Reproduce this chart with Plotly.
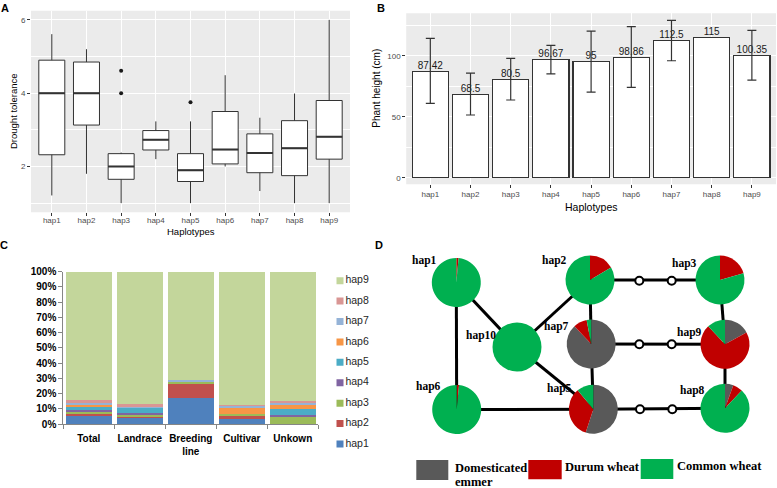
import plotly.graph_objects as go

W, H = 777, 488
SANS = "Liberation Sans, Arial, sans-serif"
SERIF = "Liberation Serif, Times New Roman, serif"

# ---------------- data ----------------
haps = ['hap1', 'hap2', 'hap3', 'hap4', 'hap5', 'hap6', 'hap7', 'hap8', 'hap9']

# A: drought tolerance (box stats)
drought_low = [1.21, 1.80, 1.00, 2.20, 1.00, 2.00, 1.33, 1.00, 1.00]
drought_q1 = [2.32, 3.13, 1.65, 2.45, 1.59, 2.07, 1.83, 1.75, 2.20]
drought_med = [4.00, 4.00, 2.00, 2.73, 1.90, 2.46, 2.37, 2.50, 2.81]
drought_q3 = [4.90, 4.85, 2.35, 2.98, 2.35, 3.50, 2.89, 3.25, 3.80]
drought_high = [5.61, 5.20, 2.38, 3.23, 3.23, 4.49, 3.33, 3.99, 6.00]
outlier_hap = ['hap3', 'hap3', 'hap5']
outlier_val = [4.61, 4.00, 3.75]

# B: plant height
height_mean = [87.42, 68.5, 80.5, 96.67, 95, 98.86, 112.5, 115, 100.35]
height_text = ['87.42', '68.5', '80.5', '96.67', '95', '98.86', '112.5', '115', '100.35']
height_hi = [114.2, 85.8, 97.8, 108.5, 120.2, 123.8, 129.0, None, 120.8]
height_lo = [60.9, 51.4, 63.7, 85.2, 70.2, 74.0, 95.9, None, 80.0]

# C: haplotype share per germplasm group (%)
groups = ['Total', 'Landrace', 'Breeding line', 'Cultivar', 'Unkown']
group_ticks = ['Total', 'Landrace', 'Breeding<br>line', 'Cultivar', 'Unkown']
share_hap1 = [5.3, 4.2, 17.4, 3.1, 0.3]
share_hap2 = [1.5, 0.9, 8.8, 2.0, 0.0]
share_hap3 = [1.5, 1.1, 1.4, 1.5, 4.3]
share_hap4 = [1.1, 0.8, 0.0, 0.0, 1.5]
share_hap5 = [2.6, 3.7, 0.0, 0.0, 3.9]
share_hap6 = [1.3, 0.0, 0.0, 3.7, 2.8]
share_hap7 = [1.0, 1.0, 1.4, 2.0, 1.7]
share_hap8 = [1.3, 1.2, 0.0, 0.3, 0.8]
share_hap9 = [84.4, 87.1, 71.0, 87.4, 84.7]

# D: haplotype network (positions in panel pixels) and pie composition (%)
node_names = ['hap1', 'hap2', 'hap3', 'hap10', 'hap7', 'hap9', 'hap6', 'hap5', 'hap8']
node_x = [456.3, 590.0, 720.0, 517.0, 591.2, 725.0, 456.7, 593.3, 725.0]
node_y = [282.5, 280.0, 280.0, 347.0, 344.0, 344.2, 409.5, 409.2, 408.3]
emmer = [0, 0, 0, 0, 88, 17, 0, 55, 5.5]
durum = [1.5, 16.5, 20.5, 0, 9, 71, 1.5, 34, 6.5]
common = [98.5, 83.5, 79.5, 100, 3, 12, 98.5, 11, 88]
edges = [('hap1', 'hap10'), ('hap10', 'hap2'), ('hap10', 'hap5'), ('hap1', 'hap6'),
         ('hap6', 'hap5'), ('hap2', 'hap7'), ('hap7', 'hap5'), ('hap2', 'hap3'),
         ('hap7', 'hap9'), ('hap5', 'hap8'), ('hap3', 'hap9'), ('hap9', 'hap8')]
mv_x = [639.3, 671.7, 639.3, 671.7, 640.0, 672.3]
mv_y = [280.7, 280.7, 344.3, 344.3, 409.3, 409.3]
label_x = [424, 554.5, 684.7, 480.7, 556, 689.7, 428, 559.7, 692]
label_y = [260, 260.7, 263.3, 335, 326, 332.7, 386, 388.3, 390.7]

# ---------------- styles ----------------
hap_colors = ['#4F81BD', '#C0504D', '#9BBB59', '#8064A2', '#4BACC6',
              '#F79646', '#95B3D7', '#D99694', '#C3D69B']
pie_colors = ['#595959', '#C00000', '#00B050']
pie_labels = ['Domesticated emmer', 'Durum wheat', 'Common wheat']
PIE_R = 24.5


def px(x):
    return x / W


def py(y):
    return 1 - y / H


fig = go.Figure()

# ========== A: box plot ==========
fig.add_trace(go.Box(
    x=haps, q1=drought_q1, median=drought_med, q3=drought_q3,
    lowerfence=drought_low, upperfence=drought_high,
    width=0.75, whiskerwidth=0, boxpoints=False,
    fillcolor='white', line=dict(color='#333333', width=1),
    xaxis='x', yaxis='y', showlegend=False
))
fig.add_trace(go.Scatter(
    x=outlier_hap, y=outlier_val, mode='markers',
    marker=dict(color='#1a1a1a', size=4),
    xaxis='x', yaxis='y', showlegend=False
))

# ========== B: bars with error bars ==========
fig.add_trace(go.Bar(
    x=haps, y=height_mean, width=0.9,
    marker=dict(color='white', line=dict(color='#333333', width=1.1)),
    xaxis='x2', yaxis='y2', showlegend=False
))
fig.add_trace(go.Scatter(
    x=haps, y=height_mean, mode='text', text=height_text,
    textposition='top center',
    textfont=dict(family=SANS, size=10, color='#1a1a1a'),
    xaxis='x2', yaxis='y2', showlegend=False
))
err_idx = [i for i, v in enumerate(height_hi) if v is not None]
fig.add_trace(go.Scatter(
    x=[haps[i] for i in err_idx],
    y=[height_mean[i] for i in err_idx],
    mode='markers', marker=dict(size=1, color='rgba(0,0,0,0)'),
    error_y=dict(type='data', symmetric=False,
                 array=[height_hi[i] - height_mean[i] for i in err_idx],
                 arrayminus=[height_mean[i] - height_lo[i] for i in err_idx],
                 color='#333333', thickness=1.2, width=4.5),
    xaxis='x2', yaxis='y2', showlegend=False
))

# ========== C: stacked percentage bars ==========
shares = [share_hap1, share_hap2, share_hap3, share_hap4, share_hap5,
          share_hap6, share_hap7, share_hap8, share_hap9]
for name, vals, col in zip(haps, shares, hap_colors):
    fig.add_trace(go.Bar(
        x=groups, y=vals, name=name,
        marker=dict(color=col, line=dict(width=0)),
        xaxis='x3', yaxis='y3', showlegend=False
    ))

# custom legend for C (hap9 on top)
fig.add_trace(go.Scatter(
    x=[0] * len(haps), y=list(range(len(haps))),
    mode='markers+text', text=haps, textposition='middle right',
    marker=dict(symbol='square', size=7, color=hap_colors),
    textfont=dict(family=SANS, size=10.5, color='#262626'),
    xaxis='x4', yaxis='y4', showlegend=False, hoverinfo='skip'
))

# ========== D: haplotype network ==========
pos = {n: (x, y) for n, x, y in zip(node_names, node_x, node_y)}
edge_x, edge_y = [], []
for a, b in edges:
    edge_x += [pos[a][0], pos[b][0], None]
    edge_y += [pos[a][1], pos[b][1], None]
fig.add_trace(go.Scatter(
    x=edge_x, y=edge_y, mode='lines', line=dict(color='black', width=3),
    xaxis='x5', yaxis='y5', showlegend=False, hoverinfo='skip'
))
fig.add_trace(go.Scatter(
    x=mv_x, y=mv_y, mode='markers',
    marker=dict(size=8, color='white', line=dict(color='black', width=2)),
    xaxis='x5', yaxis='y5', showlegend=False, hoverinfo='skip'
))
for i, name in enumerate(node_names):
    cx, cy = node_x[i], node_y[i]
    fig.add_trace(go.Pie(
        values=[emmer[i], durum[i], common[i]], labels=pie_labels,
        marker=dict(colors=pie_colors, line=dict(width=0)),
        sort=False, direction='clockwise', rotation=0,
        textinfo='none', showlegend=False, name=name,
        domain=dict(x=[px(cx - PIE_R), px(cx + PIE_R)],
                    y=[py(cy + PIE_R), py(cy - PIE_R)])
    ))

annotations = []
for name, lx, ly in zip(node_names, label_x, label_y):
    annotations.append(dict(
        x=lx, y=ly, xref='x5', yref='y5', text='<b>%s</b>' % name,
        xanchor='center', yanchor='middle', showarrow=False,
        font=dict(family=SERIF, size=11.5, color='black')
    ))

# D legend
swatches = [(416.3, 448.3, 460, 480), (528.3, 561.7, 460, 479.3), (640.7, 673.3, 459, 479)]
shapes = []
for (x0, x1, y0, y1), col in zip(swatches, pie_colors):
    shapes.append(dict(type='rect', xref='x5', yref='y5', x0=x0, x1=x1, y0=y0, y1=y1,
                       fillcolor=col, line=dict(width=0)))
for txt, lx, ly in [('Domesticated', 452.7, 467.7), ('emmer', 452.7, 481.5),
                    ('Durum wheat', 563.3, 466.7), ('Common wheat', 675, 466)]:
    annotations.append(dict(
        x=lx, y=ly, xref='x5', yref='y5', text='<b>%s</b>' % txt,
        xanchor='left', yanchor='middle', showarrow=False,
        font=dict(family=SERIF, size=12.5, color='black')
    ))

# gray ggplot panels for A and B
for xr, yr in [('x domain', 'y domain'), ('x2 domain', 'y2 domain')]:
    shapes.append(dict(type='rect', xref=xr, yref=yr, x0=0, x1=1, y0=0, y1=1,
                       fillcolor='#EBEBEB', line=dict(width=0), layer='below'))

# medians drawn thicker like ggplot
for i, m in enumerate(drought_med):
    shapes.append(dict(type='line', xref='x', yref='y', x0=i - 0.375, x1=i + 0.375,
                       y0=m, y1=m, line=dict(color='#333333', width=2)))

# axis titles and panel letters
titles = [
    ('Haplotypes', 190.5, 231, 0, 9.5, 'normal'),
    ('Drought tolerance', 13, 111, -90, 9.5, 'normal'),
    ('Haplotypes', 591, 207, 0, 10.5, 'normal'),
    ('Phant height (cm)', 376.7, 88, -90, 10, 'normal'),
    ('A', 5, 7.5, 0, 11, 'bold'),
    ('B', 380.5, 8, 0, 11, 'bold'),
    ('C', 3.5, 245, 0, 11, 'bold'),
    ('D', 379, 245.5, 0, 11, 'bold'),
]
for txt, lx, ly, ang, size, weight in titles:
    annotations.append(dict(
        x=px(lx), y=py(ly), xref='paper', yref='paper', text=txt, textangle=ang,
        xanchor='center', yanchor='middle', showarrow=False,
        font=dict(family=SANS, size=size, color='black', weight=weight)
    ))

gg_tick = dict(ticks='outside', ticklen=3, tickcolor='#333333', tickwidth=1,
               tickfont=dict(family=SANS, size=8, color='#4D4D4D'),
               showline=False, zeroline=False, automargin=False)

fig.update_layout(
    template='none',
    width=W, height=H,
    margin=dict(l=0, r=0, t=0, b=0, pad=0, autoexpand=False),
    paper_bgcolor='white', plot_bgcolor='white',
    showlegend=False, barmode='stack', bargap=0.1,
    font=dict(family=SANS),
    xaxis=dict(domain=[px(31), px(350)], anchor='y', type='category',
               categoryorder='array', categoryarray=haps, range=[-0.6, 8.6],
               showgrid=True, gridcolor='white', gridwidth=1.1,
               ticklabelstandoff=-3, **gg_tick),
    yaxis=dict(domain=[py(212.3), py(10.7)], anchor='x', range=[0.75, 6.25],
               tickvals=[2, 4, 6], showgrid=True, gridcolor='white', gridwidth=1.1,
               minor=dict(tickvals=[1, 3, 5], showgrid=True, gridcolor='white',
                          gridwidth=0.5, ticks=''),
               **gg_tick),
    xaxis2=dict(domain=[px(406.2), px(776)], anchor='y2', type='category',
                categoryorder='array', categoryarray=haps, range=[-0.6, 8.6],
                showgrid=True, gridcolor='white', gridwidth=1.1,
                ticklabelstandoff=-1, **gg_tick),
    yaxis2=dict(domain=[py(184.3), py(13.3)], anchor='x2', range=[-5.4, 134.8],
                tickvals=[0, 50, 100], showgrid=True, gridcolor='white', gridwidth=1.1,
                minor=dict(tickvals=[25, 75, 125], showgrid=True, gridcolor='white',
                           gridwidth=0.5, ticks=''),
                **gg_tick),
    xaxis3=dict(domain=[px(63.3), px(318.3)], anchor='y3', type='category',
                categoryorder='array', categoryarray=groups, range=[-0.5, 4.5],
                tickvals=groups, ticktext=group_ticks, tickson='boundaries',
                tickangle=0, ticks='outside', ticklen=4, tickcolor='#868686',
                showline=True, linecolor='#868686', linewidth=1,
                showgrid=False, zeroline=False, ticklabelstandoff=5, automargin=False,
                tickfont=dict(family=SANS, size=10, color='black', weight='bold')),
    yaxis3=dict(domain=[py(424), py(271.7)], anchor='x3', range=[0, 100],
                tickvals=list(range(0, 101, 10)),
                ticktext=['%d%%' % v for v in range(0, 101, 10)],
                ticks='outside', ticklen=4, tickcolor='#868686',
                showline=True, linecolor='#868686', linewidth=1,
                showgrid=False, zeroline=False, automargin=False,
                tickfont=dict(family=SANS, size=10, color='black', weight='bold')),
    xaxis4=dict(domain=[px(335), px(385)], anchor='y4', range=[-1, 9],
                visible=False, automargin=False),
    yaxis4=dict(domain=[py(454.2), py(270.5)], anchor='x4', range=[-0.5, 8.5],
                visible=False, automargin=False),
    xaxis5=dict(domain=[px(380), 1], anchor='y5', range=[380, 777],
                visible=False, automargin=False),
    yaxis5=dict(domain=[0, py(240)], anchor='x5', range=[488, 240],
                visible=False, automargin=False),
    shapes=shapes,
    annotations=annotations,
)

# the page's default 8px body margin would shift the whole figure
fig.write_html("out.html", config={'displayModeBar': False},
               post_script="document.body.style.margin='0px';")
